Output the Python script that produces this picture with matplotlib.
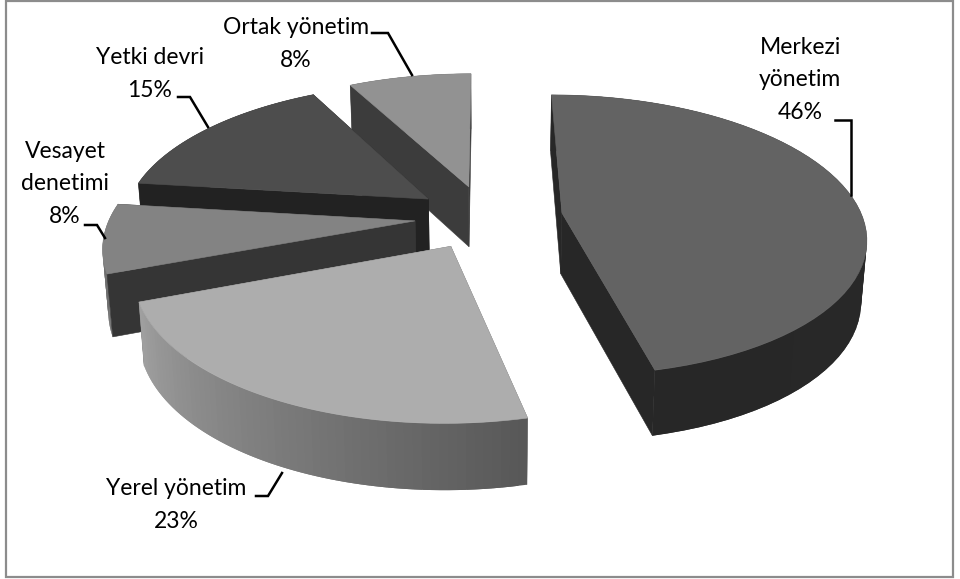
import numpy as np
import matplotlib
matplotlib.use("Agg")
import matplotlib.pyplot as plt
from matplotlib.patches import Polygon, Rectangle

categories = ["Merkezi\nyönetim", "Yerel yönetim", "Vesayet\ndenetimi", "Yetki devri", "Ortak yönetim"]
values = [46.4, 22.83, 7.69, 15.38, 7.7]
top_colors = ["#636363", "#adadad", "#838383", "#4d4d4d", "#929292"]
radial_colors = ["#272727", "#6a6a6a", "#353535", "#222222", "#3c3c3c"]
wall_start = ["#272727", "#a0a0a0", "#6f6f6f", "#333333", "#555555"]
wall_end = ["#2a2a2a", "#585858", "#6f6f6f", "#333333", "#555555"]
explode = [0.255, 0.23, 0.23, 0.23, 0.23]
radius = [0.985, 0.99, 1.0, 1.0, 1.0]
label_xy = [(800, 80), (176, 505), (65, 184), (150, 74), (296, 44)]
leaders = [
    [(851, 195), (851, 120), (835, 120)],
    [(282, 473), (268, 496), (256, 496)],
    [(105, 238), (97, 225), (85, 225)],
    [(208, 127), (190, 97), (178, 97)],
    [(412, 75), (388, 33), (372, 33)],
]

CX, CY, RX, RY, K = 485.0, 217.0, 305.0, 140.0, 0.16
DEPTH, SHRINK = 61.0, 0.985


def project(u, v):
    s = 1.0 / (1.0 + K * v)
    return CX + RX * u * s, CY - RY * v * s


def project_low(u, v):
    x, y = project(u, v)
    return CX + (x - CX) * SHRINK, y + DEPTH * (1 - 0.08 * v)


def quad(ax, pts, color, z, lw=0.4):
    ax.add_patch(Polygon(pts, closed=True, facecolor=color, edgecolor=color if lw else "none",
                         linewidth=lw, zorder=z))


def hex2rgb(c):
    return np.array(matplotlib.colors.to_rgb(c))


fig = plt.figure(figsize=(9.6, 5.79), dpi=100)
ax = fig.add_axes([0, 0, 1, 1])
ax.set_xlim(0, 960)
ax.set_ylim(579, 0)
ax.axis("off")
ax.add_patch(Rectangle((6, 0.8), 947, 576, facecolor="white", edgecolor="#8c8c8c", linewidth=1.6, zorder=0))

fractions = np.array(values, dtype=float) / sum(values)
edges = np.concatenate([[0], np.cumsum(fractions)]) * 2 * np.pi
paint_order = [4, 3, 0, 2, 1]

z = 1
for i in paint_order:
    a0, a1 = edges[i], edges[i + 1]
    mid = (a0 + a1) / 2
    ou, ov = explode[i] * np.sin(mid), explode[i] * np.cos(mid)
    t = np.linspace(a0, a1, 61)
    us, vs = ou + radius[i] * np.sin(t), ov + radius[i] * np.cos(t)
    apex_hi, apex_lo = project(ou, ov), project_low(ou, ov)

    def draw_wall():
        global z
        # painted strip by strip; each strip overlaps the next so no seams show
        c0, c1 = hex2rgb(wall_start[i]), hex2rgb(wall_end[i])
        for j in range(len(t) - 1):
            f = j / (len(t) - 2)
            col = c1 * (1 - f) + c0 * f
            k = min(j + 2, len(t) - 1)
            pts = [project(us[j], vs[j]), project(us[k], vs[k]),
                   project_low(us[k], vs[k]), project_low(us[j], vs[j])]
            quad(ax, pts, col, z, lw=0)
            z += 1

    def draw_radials():
        global z
        faces = []
        for end_idx in (0, -1):
            pts = [apex_hi, project(us[end_idx], vs[end_idx]),
                   project_low(us[end_idx], vs[end_idx]), apex_lo]
            faces.append((vs[end_idx] + ov, pts, radial_colors[i]))
        faces.sort(key=lambda f: -f[0])
        for _, pts, col in faces:
            quad(ax, pts, col, z)
            z += 1

    if np.cos(mid) < -0.3:
        draw_radials()
        draw_wall()
    else:
        draw_wall()
        draw_radials()

    top = [apex_hi] + [project(a, b) for a, b in zip(us, vs)]
    quad(ax, top, top_colors[i], z)
    z += 1

for path in leaders:
    xs, ys = zip(*path)
    ax.plot(xs, ys, color="black", lw=1.8, solid_joinstyle="miter", zorder=z)

for name, val, (x, y) in zip(categories, values, label_xy):
    ax.text(x, y, f"{name}\n{round(val)}%", ha="center", va="center", family="Lato",
            fontsize=16.5, linespacing=1.7, color="black", zorder=z + 1)

fig.savefig("out.png", dpi=100, facecolor="white")
